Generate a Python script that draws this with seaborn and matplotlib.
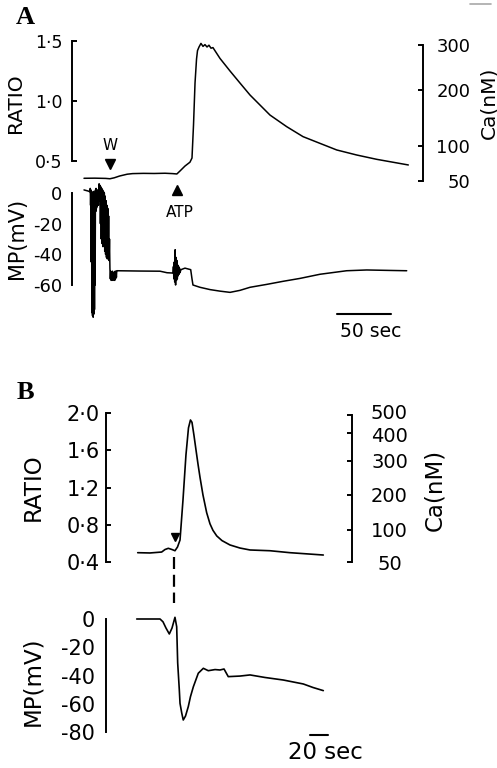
import pandas as pd
import seaborn as sns
import matplotlib.pyplot as plt
import matplotlib.transforms as mtransforms
from matplotlib.lines import Line2D

W, H = 497, 768

# ---- panel A: fura-2 ratio (time in sec) ----
a_ratio_t = [0, 10, 20, 24, 28, 33, 40, 45, 55, 65, 75, 82, 86, 88.9, 93.5, 98.1, 100,
             101.4, 102.8, 104.2, 105.1, 106.5, 108.3, 110.2, 112, 113.9, 115.7, 117.6,
             119.4, 125.9, 135.2, 144.4, 153.7, 172.2, 187.7, 202.8, 218.5, 234, 252.5,
             271, 300.3]
a_ratio = [0.356, 0.357, 0.355, 0.352, 0.36, 0.375, 0.39, 0.395, 0.397, 0.396, 0.398,
           0.395, 0.392, 0.417, 0.458, 0.49, 0.525, 0.8, 1.15, 1.35, 1.42, 1.45, 1.48,
           1.455, 1.47, 1.45, 1.465, 1.44, 1.445, 1.355, 1.25, 1.15, 1.05, 0.883, 0.786,
           0.703, 0.647, 0.592, 0.55, 0.514, 0.467]

# ---- panel A: membrane potential (mV) ----
a_mp_t = [0, 3.7, 5.6,
          5.8, 6.1, 6.4, 6.7, 7.0, 7.3, 7.6, 7.9, 8.2, 8.5, 8.8, 9.1, 9.4, 9.7, 10.0,
          10.3, 10.6, 10.9, 11.2, 11.5, 11.8, 12.1, 12.4, 12.7, 13.0, 13.3, 13.6,
          14.0, 14.4, 14.8, 15.2, 15.6, 16.0, 16.4, 16.8, 17.2, 17.6, 18.0, 18.4, 18.8,
          19.2, 19.6, 20.0, 20.4, 20.8, 21.2, 21.6, 22.0, 22.4, 22.8, 23.2, 23.6, 24.0,
          24.4, 24.8, 25.2, 25.6, 26.0, 26.4, 26.8, 27.2, 27.6, 28.0, 28.4, 28.8, 29.2,
          29.6, 30.0, 30.3,
          30.6, 51.9, 70.4, 76.9, 82.4,
          82.8, 83.2, 83.6, 84.0, 84.4, 84.8, 85.2, 85.6, 86.0, 86.4, 86.8, 87.2, 87.6,
          88.0, 88.4, 88.8,
          89.8, 93.5, 98.8, 100, 100.9, 107.4, 116.7, 125.9, 135.2, 144.4, 153.7,
          169.2, 184.3, 200, 218.5, 243.2, 261.8, 283.3, 298.8]
a_mp = [2, 1.3, 0.8,
        3, -8, 2, -45, 1, -78, 0, -80, -2, -81, 1, -79, -3, -76, 0,
        -60, 2, -12, 3, -10, 1, -9, 2, -6, 0, -8, 1,
        6, -5, 5, -20, 4, -30, 3, -33, 2, -35, 1, -33, 0,
        -38, -2, -40, -5, -42, -8, -43, -10, -42, -15, -44, -30, -49,
        -56, -51, -57, -52, -56, -51, -57, -52, -56, -52, -57, -51, -56,
        -51, -55, -51,
        -50.7, -50.9, -51, -52, -52.2,
        -48, -56, -45, -58, -37, -60, -42, -57, -44, -56, -47, -54, -48,
        -53, -49, -52,
        -50, -49, -50, -56, -60, -61.5, -63, -64, -64.8, -63.5, -61.5,
        -59.6, -57.6, -55.7, -53, -50.7, -50.2, -50.5, -50.7]

# ---- panel B: fura-2 ratio ----
b_ratio_t = [0.8, 14.4, 27.4, 31.1, 34.8, 38.9, 42.2, 45, 47.8, 51.1, 54.4, 57.2, 59.4,
             61.1, 63.3, 65.6, 67.8, 70, 73.3, 77.4, 81.1, 84.4, 88.6, 94.4, 103.3,
             114.4, 125.6, 147.8, 170, 207]
b_ratio = [0.5, 0.497, 0.507, 0.534, 0.547, 0.534, 0.521, 0.561, 0.636, 1.066, 1.55,
           1.84, 1.925, 1.90, 1.76, 1.60, 1.45, 1.31, 1.12, 0.93, 0.81, 0.74, 0.68,
           0.63, 0.583, 0.55, 0.529, 0.521, 0.5, 0.475]

# ---- panel B: membrane potential ----
b_mp_t = [-0.3, 25.6, 28.9, 32.2, 35.9, 38.9, 42.2, 44.1, 45.2, 47, 47.8, 49.7, 51.4,
          53.9, 57, 59.4, 62.6, 68.1, 73.7, 79.2, 86.7, 92.2, 96.7, 101.4, 114.4, 125.6,
          142.2, 162.6, 184.8, 195.6, 207]
b_mp = [0, 0, -2, -6.4, -10.6, -6.4, 1.2, -5.5, -31, -50, -59.7, -66.5, -71.5,
        -68.7, -62, -55, -48, -38.4, -34.9, -36.6, -35.8, -36.1, -35.4, -40.8, -40.4,
        -39.6, -41.4, -43.2, -46, -48.5, -50.7]

# axis ticks
a_ratio_ticks = [0.5, 1.0, 1.5]
a_ca_labels = [300, 200, 100, 50]
a_ca_at_ratio = [1.467, 1.092, 0.628, 0.333]
a_mp_ticks = [0, -20, -40, -60]
b_ratio_ticks = [0.4, 0.8, 1.2, 1.6, 2.0]
b_ca_labels = [500, 400, 300, 200, 100, 50]
b_ca_at_ratio = [1.979, 1.786, 1.485, 1.12, 0.744, 0.40]
b_mp_ticks = [0, -20, -40, -60, -80]

sns.set_style("white", {'axes.edgecolor': 'black', 'text.color': 'black',
                        'xtick.color': 'black', 'ytick.color': 'black',
                        'axes.labelcolor': 'black'})
plt.rcParams['font.family'] = ['DejaVu Sans']

fig = plt.figure(figsize=(W / 100, H / 100), dpi=100)


def px_axes(left, top, right, bottom):
    # axes box given in pixels of the final image
    return fig.add_axes([left / W, 1 - bottom / H, (right - left) / W, (bottom - top) / H])


def dot(v):
    return f"{v:.1f}".replace('.', '\u00b7')


def trace_axes(ax, ticks, labels, size, pad):
    for s in ['top', 'right', 'bottom']:
        ax.spines[s].set_visible(False)
    ax.spines['left'].set_bounds(min(ticks), max(ticks))
    ax.spines['left'].set_linewidth(1.4)
    ax.set_xticks([])
    ax.set_yticks(ticks, labels)
    ax.tick_params(axis='y', direction='in', length=3.8, width=1.4, pad=pad, labelsize=size)
    ax.set_xlabel('')
    ax.set_ylabel('')
    ax.patch.set_visible(False)


def ca_axis(ax, pos, labels, size, pad, ha):
    ax2 = ax.twinx()
    ax2.set_ylim(ax.get_ylim())
    for s in ['top', 'left', 'bottom']:
        ax2.spines[s].set_visible(False)
    ax2.spines['right'].set_bounds(min(pos), max(pos))
    ax2.spines['right'].set_linewidth(1.4)
    ax2.set_yticks(pos, [str(v) for v in labels])
    ax2.tick_params(axis='y', direction='in', length=3.8, width=1.4, pad=pad, labelsize=size)
    for lbl in ax2.get_yticklabels():
        lbl.set_ha(ha)
    ax2.patch.set_visible(False)
    return ax2


def nudge(lbl, dy_px):
    lbl.set_transform(lbl.get_transform() +
                      mtransforms.ScaledTranslation(0, dy_px / 100, fig.dpi_scale_trans))


# ---------------- A: ratio ----------------
ax = px_axes(72, 40, 423, 183)
df = pd.DataFrame({'t': a_ratio_t, 'ratio': a_ratio})
sns.lineplot(data=df, x='t', y='ratio', ax=ax, color='black', linewidth=1.1,
             estimator=None, sort=False)
ax.set_xlim(-11.11, 313.89)
ax.set_ylim(0.3167, 1.5083)
trace_axes(ax, a_ratio_ticks, [dot(v) for v in a_ratio_ticks], 12.5, 7)
ca_axis(ax, a_ca_at_ratio, a_ca_labels, 13, 34, 'right')
ax.plot([24.1], [0.479], marker='v', color='black', ms=6.5, clip_on=False)
ax.text(24.1, 0.633, 'W', ha='center', va='center', fontsize=11)

# ---------------- A: membrane potential ----------------
ax = px_axes(72, 183, 423, 322)
df = pd.DataFrame({'t': a_mp_t, 'mp': a_mp})
sns.lineplot(data=df, x='t', y='mp', ax=ax, color='black', linewidth=1.1,
             estimator=None, sort=False)
ax.set_xlim(-11.11, 313.89)
ax.set_ylim(-84.13, 6.52)
trace_axes(ax, a_mp_ticks, [str(v) for v in a_mp_ticks], 13, 7)
ax.plot([85.8], [1.96], marker='^', color='black', ms=6.5, clip_on=False)
ax.text(88.4, -12.4, 'ATP', ha='center', va='center', fontsize=11)
# 50 sec scale bar
ax.plot([234.3, 284.3], [-78.9, -78.9], color='black', linewidth=1.5, clip_on=False)
ax.text(265.7, -90.0, '50 sec', ha='center', va='center', fontsize=13.5)

# ---------------- B: ratio ----------------
ax = px_axes(106, 405, 352, 570)
df = pd.DataFrame({'t': b_ratio_t, 'ratio': b_ratio})
sns.lineplot(data=df, x='t', y='ratio', ax=ax, color='black', linewidth=1.2,
             estimator=None, sort=False)
ax.set_xlim(-34.44, 238.89)
ax.set_ylim(0.3141, 2.0859)
trace_axes(ax, b_ratio_ticks, [dot(v) for v in b_ratio_ticks], 15, 4.5)
ax_ca = ca_axis(ax, b_ca_at_ratio, b_ca_labels, 14, 27, 'center')
# 500 and 400 sit very close: push them apart a little
ca_lbls = ax_ca.get_yticklabels()
nudge(ca_lbls[0], 3)
nudge(ca_lbls[1], -2)
ax.plot([42.2], [0.668], marker='v', color='black', ms=5.5, clip_on=False)

# ---------------- B: membrane potential ----------------
ax = px_axes(106, 610, 352, 745)
df = pd.DataFrame({'t': b_mp_t, 'mp': b_mp})
sns.lineplot(data=df, x='t', y='mp', ax=ax, color='black', linewidth=1.2,
             estimator=None, sort=False)
ax.set_xlim(-34.44, 238.89)
ax.set_ylim(-89.2, 6.37)
trace_axes(ax, b_mp_ticks, [str(v) for v in b_mp_ticks], 15, 8)
# dashed line linking stimulus in both traces
ax.plot([41.1, 41.1], [43.9, 11.3], color='black', linewidth=1.6,
        linestyle=(0, (5.4, 2.6)), clip_on=False)
# 20 sec scale bar
ax.plot([192.2, 212.2], [-82.1, -82.1], color='black', linewidth=1.5, clip_on=False)
ax.text(208.9, -94.2, '20 sec', ha='center', va='center', fontsize=16.5)

# ---------------- labels ----------------
def ftext(x, y, s, **kw):
    fig.text(x / W, 1 - y / H, s, ha='center', va='center', **kw)


ftext(25, 17.5, 'A', fontsize=19, family='Liberation Serif', weight='bold')
ftext(25, 392.5, 'B', fontsize=19, family='Liberation Serif', weight='bold')
ftext(15.5, 103, 'RATIO', rotation=90, fontsize=14.5)
ftext(489, 102.5, 'Ca(nM)', rotation=90, fontsize=14.5)
ftext(16.7, 238, 'MP(mV)', rotation=90, fontsize=15)
ftext(33, 487.5, 'RATIO', rotation=90, fontsize=16.5)
ftext(32.5, 681, 'MP(mV)', rotation=90, fontsize=16.5)
ftext(435, 489.5, 'Ca(nM)', rotation=90, fontsize=16.5)

# small mark at top right of the scan
fig.add_artist(Line2D([470 / W, 491 / W], [1 - 3.5 / H, 1 - 3.5 / H], color='#a8a8a8', lw=1.2))

fig.savefig('out.png', dpi=100)
